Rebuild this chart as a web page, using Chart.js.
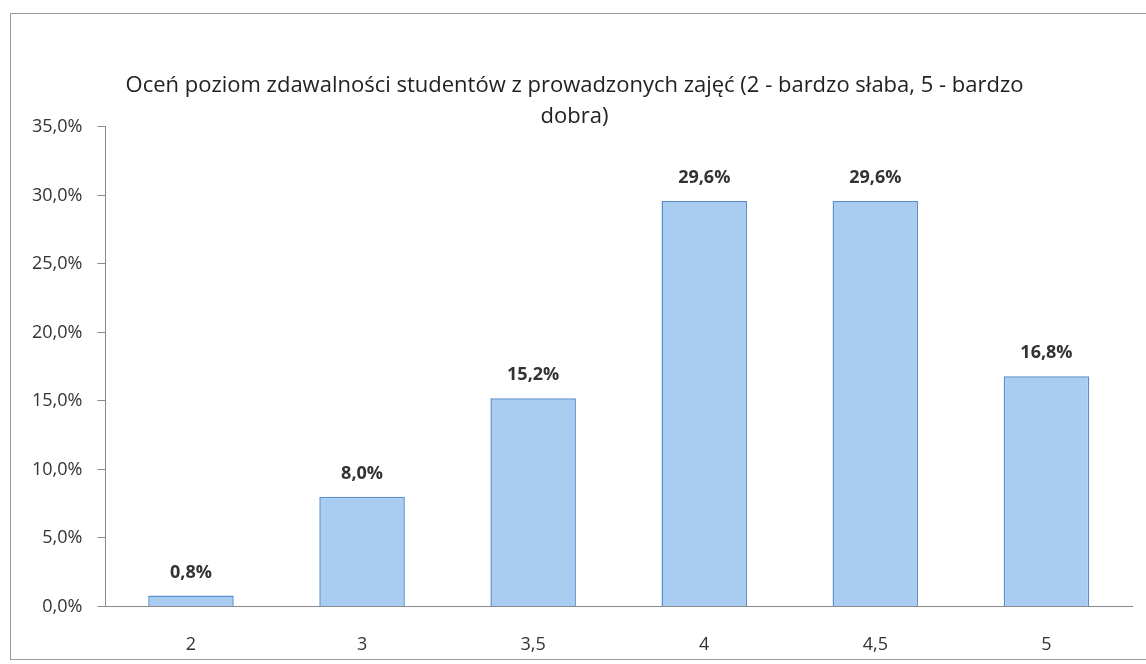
<!DOCTYPE html>
<html>
<head>
<meta charset="utf-8">
<script src="https://cdn.jsdelivr.net/npm/chart.js@4"></script>
<style>
  body { margin: 0; background: #fff; }
  #box { position: absolute; left: 10px; top: 13px; width: 1136px; height: 647px; border: 1px solid #9a9a9a; border-right: none; box-sizing: border-box; }
  canvas { display: block; }
</style>
</head>
<body>
<div id="box"><canvas id="chart" width="1135" height="645"></canvas></div>
<script>
// categories and values (percent)
const categories = ['2', '3', '3,5', '4', '4,5', '5'];
const values = [0.8, 8.0, 15.2, 29.6, 29.6, 16.8];
const yTicks = [0, 5, 10, 15, 20, 25, 30, 35];

function pct(v) {
    return v.toFixed(1).replace('.', ',') + '%';
}

//Draw value labels on top of bars
const barLabels = {
    id: 'barLabels',
    afterDatasetsDraw(chart) {
        const ctx = chart.ctx;
        const meta = chart.getDatasetMeta(0);
        ctx.save();
        ctx.font = 'bold 18px "Open Sans"';
        ctx.fillStyle = '#333';
        ctx.textAlign = 'center';
        ctx.textBaseline = 'middle';
        meta.data.forEach(function (bar, i) {
            ctx.fillText(pct(values[i]), bar.x, bar.y - 23);
        });
        ctx.restore();
    }
};

const ctx = document.getElementById('chart').getContext('2d');
const myChart = new Chart(ctx, {
    type: 'bar',
    data: {
        labels: categories,
        datasets: [{
            data: values,
            backgroundColor: '#a9cdf1',
            borderColor: '#5a8fcf',
            borderWidth: 1.5,
            categoryPercentage: 1,
            barPercentage: 0.5
        }]
    },
    options: {
        responsive: false,
        animation: false,
        layout: { padding: { left: 6, right: 14, top: 0, bottom: -25 } },
        plugins: {
            legend: { display: false },
            tooltip: { enabled: false },
            title: {
                display: true,
                text: ['Oceń poziom zdawalności studentów z prowadzonych zajęć (2 - bardzo słaba, 5 - bardzo', 'dobra)'],
                color: '#222',
                font: { family: '"Open Sans"', size: 22, weight: 'normal', lineHeight: 1.43 },
                padding: { top: 56, bottom: -6 }
            }
        },
        scales: {
            x: {
                grid: { display: false, drawTicks: false },
                border: { color: '#8a8a8a', width: 1 },
                ticks: { color: '#333', font: { family: '"Open Sans"', size: 18 }, padding: 28 }
            },
            y: {
                min: 0,
                max: 35,
                afterBuildTicks: function (axis) {
                    axis.ticks = yTicks.map(function (v) { return { value: v }; });
                },
                grid: { drawOnChartArea: false, tickLength: 8, color: '#8a8a8a' },
                border: { color: '#8a8a8a', width: 1 },
                ticks: {
                    color: '#333',
                    font: { family: '"Open Sans"', size: 18 },
                    padding: 15,
                    callback: function (v) { return pct(v); }
                }
            }
        }
    },
    plugins: [barLabels]
});
</script>
</body>
</html>
